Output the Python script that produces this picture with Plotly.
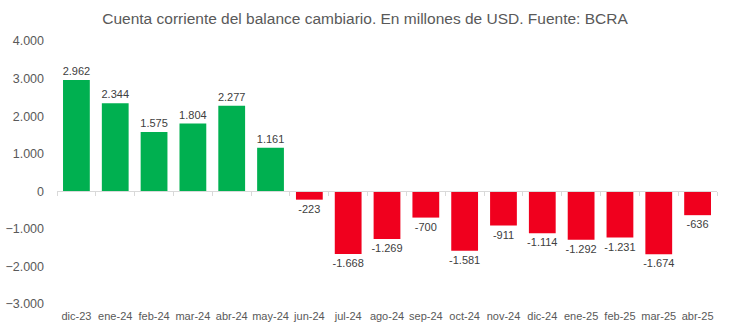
import plotly.graph_objects as go

categories = ["dic-23", "ene-24", "feb-24", "mar-24", "abr-24", "may-24", "jun-24", "jul-24",
              "ago-24", "sep-24", "oct-24", "nov-24", "dic-24", "ene-25", "feb-25", "mar-25", "abr-25"]
values = [2962, 2344, 1575, 1804, 2277, 1161, -223, -1668,
          -1269, -700, -1581, -911, -1114, -1292, -1231, -1674, -636]
y_ticks = [-3000, -2000, -1000, 0, 1000, 2000, 3000, 4000]

GREEN = "#00B050"
RED = "#F0001E"
colors = [GREEN if v >= 0 else RED for v in values]

y_min, y_max = -3000, 4000
zero_pos = (0 - y_min) / (y_max - y_min)
x_range = [-0.5, len(categories) - 0.5]

fig = go.Figure()
fig.add_trace(go.Bar(
    x=categories, y=values, marker=dict(color=colors, line=dict(width=0)),
    texttemplate="%{y:,}", textposition="outside", cliponaxis=False,
    constraintext="none",
    textfont=dict(family="Liberation Sans, Arial", size=11, color="#404040"),
    xaxis="x", yaxis="y", hoverinfo="skip",
))
# invisible trace to carry the category labels on the bottom axis
fig.add_trace(go.Scatter(
    x=categories, y=[0] * len(categories), mode="markers",
    marker=dict(opacity=0), xaxis="x2", yaxis="y", hoverinfo="skip", showlegend=False,
))

fig.update_layout(
    width=730, height=331,
    margin=dict(l=57, r=13, t=41, b=27, autoexpand=False),
    plot_bgcolor="white", paper_bgcolor="white",
    separators=",.",
    showlegend=False,
    bargap=0.31,
    title=dict(text="Cuenta corriente del balance cambiario. En millones de USD. Fuente: BCRA",
               x=0.5, xanchor="center", y=0.945, yanchor="middle",
               font=dict(family="Liberation Sans, Arial", size=15.5, color="#595959")),
    xaxis=dict(
        type="category", anchor="free", position=zero_pos, range=x_range,
        showline=True, linecolor="#D9D9D9", linewidth=1,
        ticks="outside", tickson="boundaries", ticklen=4, tickcolor="#D9D9D9",
        showticklabels=False, showgrid=False, zeroline=False,
    ),
    xaxis2=dict(
        type="category", overlaying="x", anchor="y", side="bottom", range=x_range,
        showline=False, ticks="", showgrid=False, zeroline=False, tickangle=0,
        ticklabelstandoff=4,
        tickfont=dict(family="Liberation Sans, Arial", size=11, color="#595959"),
    ),
    yaxis=dict(
        range=[y_min, y_max], tickvals=y_ticks, tickformat=",",
        showgrid=False, zeroline=False, showline=False, ticks="",
        ticklabelstandoff=12,
        tickfont=dict(family="Liberation Sans, Arial", size=12.5, color="#595959"),
    ),
)

fig.write_html("out.html")
